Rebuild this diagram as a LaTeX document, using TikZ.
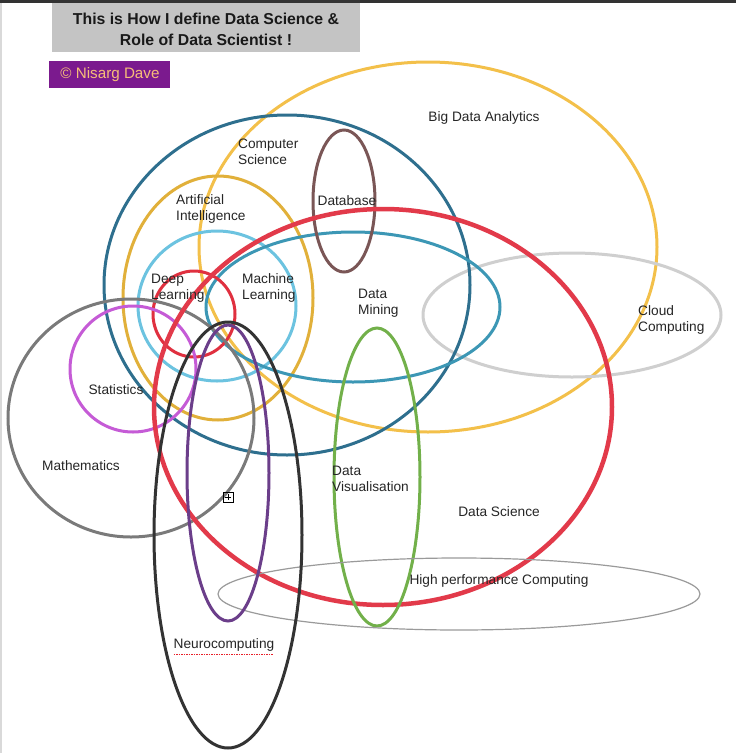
\documentclass[tikz,border=0pt]{standalone}
\usepackage{fontspec}
\setmainfont{Liberation Sans}
\begin{document}
\begin{tikzpicture}[x=1pt,y=-1pt,
  ring/.style={line width=3pt},
  lbl/.style={inner sep=0pt,align=left,font=\fontsize{13.7}{16.5}\selectfont,text=black!85},
  lblw/.style={lbl,anchor=west}]
\definecolor{cBig}{HTML}{F3C04A}
\definecolor{cCS}{HTML}{2E6F8E}
\definecolor{cAI}{HTML}{E1B03A}
\definecolor{cML}{HTML}{6CC3E0}
\definecolor{cDL}{HTML}{E0303F}
\definecolor{cDB}{HTML}{7A5656}
\definecolor{cDM}{HTML}{3C97B5}
\definecolor{cCloud}{HTML}{CFCFCF}
\definecolor{cDS}{HTML}{E23A4A}
\definecolor{cStat}{HTML}{C55BD6}
\definecolor{cMath}{HTML}{7A7A7A}
\definecolor{cNeuro}{HTML}{333333}
\definecolor{cPurp}{HTML}{6B3E8A}
\definecolor{cVis}{HTML}{72B04A}
\definecolor{cHPC}{HTML}{9A9A9A}
\definecolor{cTitle}{HTML}{C4C4C4}
\definecolor{cNis}{HTML}{7B1A8E}
\definecolor{cNisT}{HTML}{F6BE78}
\definecolor{cSpell}{HTML}{E8202A}
\useasboundingbox[fill=white] (0,0) rectangle (736,753);
\fill[black!80] (0,0) rectangle (736,3);
\fill[black!15] (0,3) rectangle (1.5,753);
% title boxes
\fill[cTitle] (52,3) rectangle (360,52);
\node[inner sep=0pt,align=center,font=\bfseries\fontsize{15.8}{21}\selectfont,text=black!90] (title) at (206,29) {This is How I define Data Science \&\\Role of Data Scientist !};
\fill[cNis] (49,61) rectangle (170,88);
\node[inner sep=0pt,font=\fontsize{15.2}{18}\selectfont,text=cNisT] (author) at (110,75) {© Nisarg Dave};
% ellipses
\draw[ring,cBig] (428,247) ellipse [x radius=229pt,y radius=185pt];
\draw[ring,cCloud] (572,315) ellipse [x radius=149pt,y radius=62pt];
\draw[ring,cCS] (287,285) ellipse [x radius=183pt,y radius=170pt];
\draw[ring,cAI] (218,298) ellipse [x radius=95pt,y radius=122pt];
\draw[ring,cML] (217,306) ellipse [x radius=79pt,y radius=75pt];
\draw[ring,cDM] (353,307) ellipse [x radius=147pt,y radius=75pt];
\draw[ring,cDB] (344,201) ellipse [x radius=31pt,y radius=71pt];
\draw[ring,cDL] (194,314) ellipse [x radius=41pt,y radius=43pt];
\draw[ring,cStat] (133,369) ellipse [x radius=63pt,y radius=63pt];
\draw[ring,cMath] (131,418) ellipse [x radius=123pt,y radius=119pt];
\draw[line width=4.5pt,cDS] (383,407) ellipse [x radius=229pt,y radius=198pt];
\draw[ring,cVis] (377,477) ellipse [x radius=43pt,y radius=149pt];
\draw[line width=1.2pt,cHPC] (459,594) ellipse [x radius=241pt,y radius=36pt];
\draw[ring,cPurp] (228,473) ellipse [x radius=41pt,y radius=148pt];
\draw[ring,cNeuro] (228,535) ellipse [x radius=74pt,y radius=213pt];
% labels
\node[lbl] (big) at (484,118) {Big Data Analytics};
\node[lblw] (cs) at (238,152) {Computer\\Science};
\node[lbl] (db) at (347,201) {Database};
\node[lblw] (ai) at (176,209) {Artificial\\Intelligence};
\node[lblw] (dl) at (151,288) {Deep\\Learning};
\node[lblw] (ml) at (242,288) {Machine\\Learning};
\node[lblw] (dm) at (358,303) {Data\\Mining};
\node[lblw] (cloud) at (638,320) {Cloud\\Computing};
\node[lbl] (stat) at (116,390) {Statistics};
\node[lbl] (math) at (81,466) {Mathematics};
\node[lblw] (vis) at (332,479) {Data\\Visualisation};
\node[lbl] (ds) at (499,512) {Data Science};
\node[lbl] (hpc) at (499,581) {High performance Computing};
\node[lbl] (neuro) at (224,645) {Neurocomputing};
\draw[cSpell,line width=1.3pt,dash pattern=on 1.5pt off 1pt] (neuro.south west) ++(0,3) -- ++(99,0);
% boxed plus
\draw[black,line width=0.8pt] (223,492) rectangle (233,502);
\draw[black,line width=0.8pt] (228,494) -- (228,500) (225,497) -- (231,497);
\end{tikzpicture}
\end{document}
